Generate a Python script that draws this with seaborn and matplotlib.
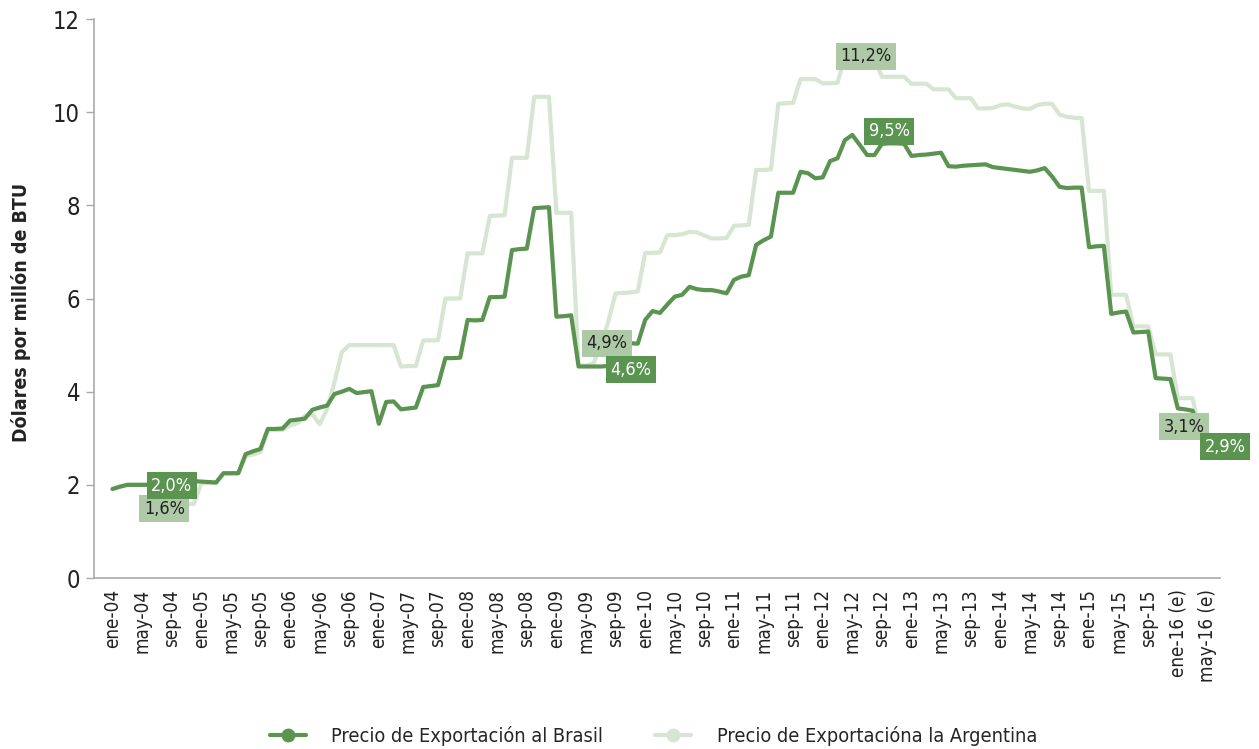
import matplotlib
matplotlib.use("Agg")
import numpy as np
import pandas as pd
import matplotlib.pyplot as plt
from matplotlib import font_manager
from matplotlib.lines import Line2D
import seaborn as sns

# ========== DATA (USD por millón de BTU, mensual desde ene-04) ==========
BRASIL = [
    1.91, 1.96, 2.00, 2.00, 2.00, 2.00, 2.00, 2.00, 2.00, 2.05,
    2.08, 2.08, 2.07, 2.06, 2.05, 2.25, 2.25, 2.25, 2.66, 2.72,
    2.77, 3.20, 3.20, 3.21, 3.38, 3.40, 3.42, 3.61, 3.66, 3.70,
    3.95, 4.00, 4.06, 3.97, 3.99, 4.01, 3.31, 3.78, 3.79, 3.62,
    3.64, 3.66, 4.10, 4.12, 4.14, 4.72, 4.72, 4.73, 5.54, 5.53,
    5.54, 6.03, 6.03, 6.04, 7.04, 7.06, 7.07, 7.94, 7.95, 7.96,
    5.61, 5.62, 5.64, 4.54, 4.54, 4.54, 4.54, 4.55, 4.56, 5.04,
    5.04, 5.03, 5.54, 5.73, 5.69, 5.87, 6.04, 6.08, 6.25, 6.20,
    6.18, 6.18, 6.15, 6.11, 6.40, 6.47, 6.50, 7.15, 7.25, 7.33,
    8.27, 8.27, 8.27, 8.72, 8.69, 8.58, 8.60, 8.95, 9.01, 9.40,
    9.51, 9.30, 9.08, 9.08, 9.32, 9.33, 9.33, 9.32, 9.06, 9.08,
    9.09, 9.11, 9.13, 8.84, 8.83, 8.85, 8.86, 8.87, 8.88, 8.82,
    8.80, 8.78, 8.76, 8.74, 8.72, 8.75, 8.80, 8.62, 8.40, 8.37,
    8.38, 8.38, 7.10, 7.12, 7.13, 5.67, 5.70, 5.72, 5.27, 5.28,
    5.29, 4.29, 4.28, 4.27, 3.64, 3.62, 3.59, 3.15, 2.90,
]
ARGENTINA = [
    1.91, 1.96, 2.00, 2.00, 2.00, 2.00, 1.60, 1.59, 1.59, 1.59,
    1.59, 1.59, 2.03, 2.04, 2.04, 2.24, 2.24, 2.24, 2.62, 2.65,
    2.70, 3.17, 3.18, 3.18, 3.28, 3.32, 3.48, 3.52, 3.30, 3.62,
    4.20, 4.85, 5.00, 5.00, 5.00, 5.00, 5.00, 5.00, 5.00, 4.54,
    4.55, 4.55, 5.10, 5.10, 5.10, 6.00, 6.00, 6.00, 6.97, 6.97,
    6.97, 7.77, 7.78, 7.79, 9.02, 9.02, 9.02, 10.33, 10.33, 10.33,
    7.84, 7.84, 7.84, 4.56, 4.56, 4.60, 5.00, 5.50, 6.11, 6.12,
    6.13, 6.15, 6.98, 6.98, 6.99, 7.36, 7.36, 7.38, 7.43, 7.42,
    7.35, 7.29, 7.29, 7.30, 7.56, 7.57, 7.58, 8.76, 8.76, 8.77,
    10.18, 10.19, 10.20, 10.71, 10.71, 10.71, 10.62, 10.62, 10.63, 11.20,
    11.20, 11.20, 11.15, 11.15, 10.76, 10.76, 10.76, 10.76, 10.61, 10.61,
    10.61, 10.49, 10.49, 10.49, 10.30, 10.30, 10.30, 10.08, 10.08, 10.09,
    10.15, 10.17, 10.12, 10.08, 10.07, 10.15, 10.18, 10.18, 9.95, 9.90,
    9.88, 9.87, 8.31, 8.31, 8.31, 6.08, 6.08, 6.08, 5.40, 5.40,
    5.40, 4.80, 4.80, 4.80, 3.86, 3.86, 3.86, 3.10,
]

TICK_LABELS = [
    "ene-04", "may-04", "sep-04", "ene-05", "may-05", "sep-05",
    "ene-06", "may-06", "sep-06", "ene-07", "may-07", "sep-07",
    "ene-08", "may-08", "sep-08", "ene-09", "may-09", "sep-09",
    "ene-10", "may-10", "sep-10", "ene-11", "may-11", "sep-11",
    "ene-12", "may-12", "sep-12", "ene-13", "may-13", "sep-13",
    "ene-14", "may-14", "sep-14", "ene-15", "may-15", "sep-15",
    "ene-16 (e)", "may-16 (e)",
]

NAME_BR = "Precio de Exportación al Brasil"
NAME_AR = "Precio de Exportacióna la Argentina"

# value labels: (serie, mes, texto, offset en pixeles)
LABELS = [
    ("AR", 7, "1,6%", (0, -5)),
    ("BR", 8, "2,0%", (0, -1)),
    ("AR", 66, "4,9%", (6, 2)),
    ("BR", 66, "4,6%", (30, -3)),
    ("AR", 101, "11,2%", (6, 0)),
    ("BR", 105, "9,5%", (0, 12)),
    ("AR", 147, "3,1%", (-16, 7)),
    ("BR", 148, "2,9%", (18, -4)),
]

DARK = "#5a9450"
LIGHT = "#d6e6d2"
BOX_DARK = "#5a9450"
BOX_LIGHT = "#adc9a5"

# ========== FONT ==========
names = {f.name for f in font_manager.fontManager.ttflist}
if "Liberation Sans Narrow" in names:
    FAMILY, STRETCH = "Liberation Sans Narrow", "normal"
else:
    FAMILY, STRETCH = "DejaVu Sans", "condensed"

sns.set_style("white")
plt.rcParams["font.family"] = [FAMILY, "DejaVu Sans"]
plt.rcParams["font.stretch"] = STRETCH

# ========== LONG FORM ==========
df = pd.concat([
    pd.DataFrame({"mes": np.arange(len(ARGENTINA)), "precio": ARGENTINA, "serie": NAME_AR}),
    pd.DataFrame({"mes": np.arange(len(BRASIL)), "precio": BRASIL, "serie": NAME_BR}),
])

fig = plt.figure(figsize=(12.59, 7.49), dpi=100)
ax = fig.add_axes([94 / 1259, 1 - 578 / 749, (1220 - 94) / 1259, (578 - 19) / 749])

sns.lineplot(data=df, x="mes", y="precio", hue="serie",
             hue_order=[NAME_AR, NAME_BR], palette=[LIGHT, DARK],
             linewidth=3.0, legend=False, ax=ax)

ax.set_xlim(-2.5, 149.7)
ax.set_ylim(0, 12)
ax.set_yticks(range(0, 13, 2))
ax.set_xticks(range(0, 4 * len(TICK_LABELS), 4))
ax.set_xticklabels(TICK_LABELS, rotation=90, fontsize=13.5, color="#222222")
ax.tick_params(axis="x", length=0, pad=8)
ax.tick_params(axis="y", length=6, width=1, color="#aaaaaa", labelsize=17,
               labelcolor="#222222", pad=4, left=True)
ax.set_xlabel("")
ax.set_ylabel("Dólares por millón de BTU", fontsize=14, fontweight="bold",
              color="#222222")
ax.yaxis.set_label_coords(-0.056, 0.475)
for s in ["top", "right"]:
    ax.spines[s].set_visible(False)
for s in ["left", "bottom"]:
    ax.spines[s].set_color("#aaaaaa")
    ax.spines[s].set_linewidth(1.2)

series = {"BR": BRASIL, "AR": ARGENTINA}
for key, idx, txt, off in LABELS:
    dark = key == "BR"
    ax.annotate(txt, xy=(idx, series[key][idx]), xytext=off, textcoords="offset pixels",
                ha="center", va="center", fontsize=13,
                color="white" if dark else "#222222",
                bbox=dict(boxstyle="square,pad=0.25", fc=BOX_DARK if dark else BOX_LIGHT,
                          ec="none"), zorder=5)

handles = [
    Line2D([], [], color=DARK, lw=3, marker="o", markersize=9),
    Line2D([], [], color=LIGHT, lw=3, marker="o", markersize=9),
]
fig.legend(handles, [NAME_BR, NAME_AR], loc="center", bbox_to_anchor=(0.519, 0.018),
           ncol=2, frameon=False, fontsize=14.3, handlelength=1.8, columnspacing=2.6,
           handletextpad=1.3)

fig.savefig("out.png", dpi=100)
